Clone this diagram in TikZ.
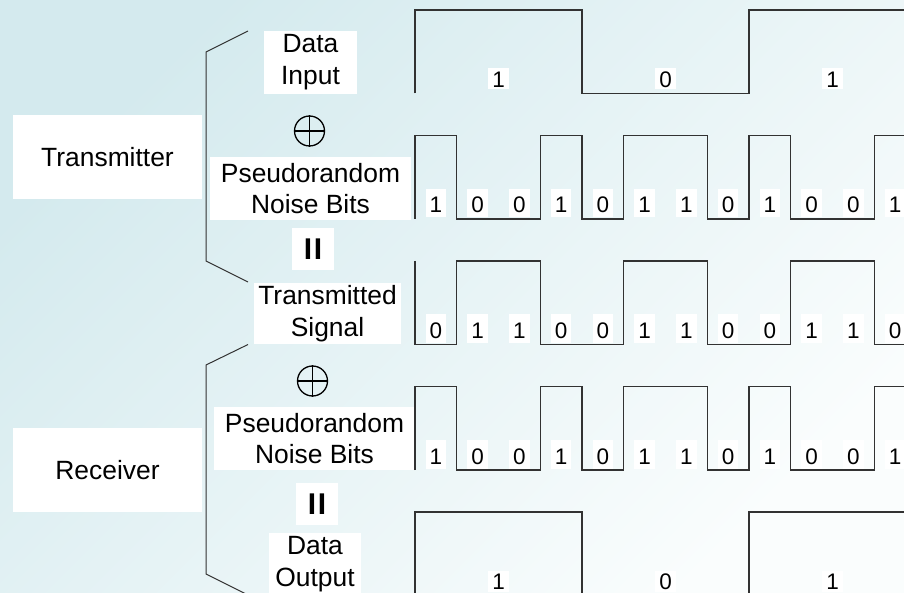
\documentclass[tikz,border=0pt]{standalone}
\usepackage{fontspec}
\setmainfont{Liberation Sans}

\definecolor{bgA}{RGB}{212,234,238}
\definecolor{bgB}{RGB}{250,253,253}
\definecolor{ink}{RGB}{50,50,50}

\tikzset{
  lbl/.style={fill=white, inner sep=0pt, align=center,
    font=\fontsize{26.4pt}{31.7pt}\selectfont},
  dig/.style={fill=white, inner xsep=4pt, inner ysep=3pt,
    text height=21pt, text depth=1.5pt, anchor=base, yshift=6pt,
    font=\fontsize{22.5pt}{27pt}\selectfont},
  digd/.style={dig, text height=17pt, text depth=0pt, inner ysep=2pt},
  wave/.style={draw=ink, line width=1.05pt, line join=miter},
  brace/.style={draw=ink, line width=1pt},
  xor/.style={circle, draw=black, line width=1.3pt, minimum size=30pt, inner sep=0pt},
  xorbar/.style={draw=black, line width=1.3pt},
  eqbar/.style={fill=white, inner sep=0pt, minimum size=42pt,
    text height=21.5pt, text depth=0pt,
    font=\fontsize{30pt}{30pt}\selectfont\bfseries},
}

% pseudorandom chip sequence 1 0 0 1 0 1 1 0 1 0 0 1 (level 0 = high, 1 = low)
\newcommand\PNtrace{(0,1) -- (0,0) -- (1,0) -- (1,1) -- (3,1) -- (3,0) -- (4,0) -- (4,1)
  -- (5,1) -- (5,0) -- (7,0) -- (7,1) -- (8,1) -- (8,0) -- (9,0) -- (9,1)
  -- (11,1) -- (11,0) -- (12,0)}
% data sequence 1 0 1, four chips per bit
\newcommand\DataTrace{(0,1) -- (0,0) -- (4,0) -- (4,1) -- (8,1) -- (8,0) -- (12,0)}

\begin{document}
\begin{tikzpicture}[x=1pt, y=-1pt]
\useasboundingbox (0,0) rectangle (904,593);
\clip (0,0) rectangle (904,593);
\shade[top color=bgA, bottom color=bgB, shading angle=45] (0,0) rectangle (904,593);

% side labels
\node[lbl, minimum width=189pt, minimum height=84pt] (tx) at (107.5,157) {Transmitter};
\node[lbl, minimum width=189pt, minimum height=84pt] (rx) at (107.5,470) {Receiver};

% row labels
\node[lbl, minimum width=93pt, minimum height=63pt] (din) at (310.5,62.5) {Data\\Input};
\node[lbl, minimum width=201pt, minimum height=63pt] (pnA) at (310.5,188.5) {Pseudorandom\\Noise Bits};
\node[lbl, minimum width=147pt, minimum height=61pt] (sig) at (327.5,313.5) {Transmitted\\Signal};
\node[lbl, minimum width=201pt, minimum height=63pt] (pnB) at (314.5,438.5) {Pseudorandom\\Noise Bits};
\node[lbl, minimum width=92pt, minimum height=63pt] (dout) at (315,564.5) {Data\\Output};

% operators
\node[xor] (xa) at (309.5,131) {};
\draw[xorbar] (xa.north) -- (xa.south) (xa.west) -- (xa.east);
\node[xor] (xb) at (312.5,381) {};
\draw[xorbar] (xb.north) -- (xb.south) (xb.west) -- (xb.east);
\node[eqbar] (eqa) at (313,249) {I\kern1.7pt I};
\node[eqbar] (eqb) at (317,503.5) {I\kern1.7pt I};

% brackets grouping the transmitter and receiver rows
\coordinate (txTop) at (248,31);
\coordinate (txBot) at (248,282);
\coordinate (rxTop) at (248,344.5);
\coordinate (rxBot) at (248,595);
\draw[brace] (txTop) -- (206,52) -- (206,261) -- (txBot);
\draw[brace] (rxTop) -- (206,365) -- (206,574) -- (rxBot);

% data input
\begin{scope}[shift={(415,10)}, x=41.75pt, y=-83.5pt]
  \draw[wave] \DataTrace;
  \foreach \b [count=\i from 0] in {1,0,1}
    \node[digd] (dinb\i) at (4*\i+2,1) {\b};
\end{scope}

% transmitter noise bits
\begin{scope}[shift={(415,135.5)}, x=41.75pt, y=-83.5pt]
  \draw[wave] \PNtrace;
  \foreach \b [count=\i from 0] in {1,0,0,1,0,1,1,0,1,0,0,1}
    \node[dig] (pnab\i) at (\i+0.5,1) {\b};
\end{scope}

% transmitted signal
\begin{scope}[shift={(415,261)}, x=41.75pt, y=-83.5pt]
  \draw[wave] (0,0) -- (0,1) -- (1,1) -- (1,0) -- (3,0) -- (3,1) -- (5,1) -- (5,0)
    -- (7,0) -- (7,1) -- (9,1) -- (9,0) -- (11,0) -- (11,1) -- (12,1);
  \foreach \b [count=\i from 0] in {0,1,1,0,0,1,1,0,0,1,1,0}
    \node[dig] (sigb\i) at (\i+0.5,1) {\b};
\end{scope}

% receiver noise bits
\begin{scope}[shift={(415,386.5)}, x=41.75pt, y=-83.5pt]
  \draw[wave] \PNtrace;
  \foreach \b [count=\i from 0] in {1,0,0,1,0,1,1,0,1,0,0,1}
    \node[dig] (pnbb\i) at (\i+0.5,1) {\b};
\end{scope}

% data output
\begin{scope}[shift={(415,512)}, x=41.75pt, y=-83.5pt]
  \draw[wave] \DataTrace;
  \foreach \b [count=\i from 0] in {1,0,1}
    \node[digd] (doutb\i) at (4*\i+2,1) {\b};
\end{scope}
\end{tikzpicture}
\end{document}
